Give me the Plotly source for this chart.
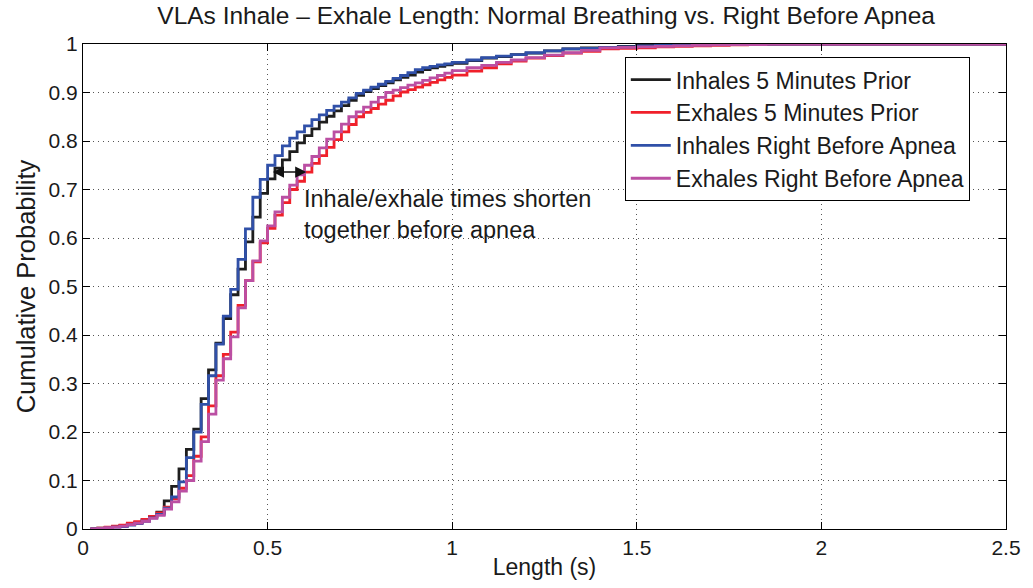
import plotly.graph_objects as go

# Breath length sample points (s)
LENGTH_S = [0.02, 0.04, 0.06, 0.08, 0.10, 0.12, 0.14, 0.16, 0.18, 0.20,
            0.22, 0.24, 0.26, 0.28, 0.30, 0.32, 0.34, 0.36, 0.38, 0.40,
            0.42, 0.44, 0.46, 0.48, 0.50, 0.52, 0.54, 0.56, 0.58, 0.60,
            0.62, 0.64, 0.66, 0.68, 0.70, 0.72, 0.74, 0.76, 0.78, 0.80,
            0.82, 0.84, 0.86, 0.88, 0.90, 0.92, 0.94, 0.96, 0.98, 1.00,
            1.04, 1.08, 1.12, 1.16, 1.20, 1.25, 1.30, 1.35, 1.40, 1.45,
            1.50, 1.55, 1.60, 1.65, 1.70, 1.75, 1.80, 1.85, 2.50]

INHALES_5MIN = [0.000, 0.002, 0.003, 0.005, 0.007, 0.010, 0.013, 0.019, 0.025, 0.035,
                0.058, 0.088, 0.124, 0.164, 0.206, 0.269, 0.328, 0.383, 0.434, 0.483,
                0.536, 0.592, 0.643, 0.692, 0.722, 0.744, 0.761, 0.778, 0.796, 0.811,
                0.825, 0.839, 0.851, 0.862, 0.873, 0.884, 0.894, 0.902, 0.908, 0.914,
                0.920, 0.926, 0.931, 0.936, 0.942, 0.947, 0.951, 0.954, 0.957, 0.960,
                0.966, 0.971, 0.974, 0.978, 0.981, 0.986, 0.990, 0.992, 0.993, 0.995,
                0.997, 0.998, 1.000, 1.000, 1.000, 1.000, 1.000, 1.000, 1.000]

EXHALES_5MIN = [0.000, 0.002, 0.004, 0.006, 0.008, 0.012, 0.015, 0.020, 0.026, 0.033,
                0.045, 0.062, 0.084, 0.110, 0.150, 0.190, 0.254, 0.316, 0.360, 0.406,
                0.461, 0.512, 0.551, 0.590, 0.620, 0.647, 0.673, 0.700, 0.717, 0.736,
                0.754, 0.770, 0.787, 0.803, 0.819, 0.834, 0.850, 0.859, 0.867, 0.876,
                0.884, 0.893, 0.901, 0.906, 0.911, 0.916, 0.921, 0.926, 0.931, 0.936,
                0.944, 0.951, 0.959, 0.965, 0.971, 0.976, 0.981, 0.985, 0.990, 0.991,
                0.992, 0.994, 0.995, 0.996, 0.997, 0.998, 0.999, 1.000, 1.000]

INHALES_APNEA = [0.000, 0.001, 0.002, 0.004, 0.005, 0.008, 0.011, 0.016, 0.023, 0.030,
                 0.043, 0.066, 0.097, 0.147, 0.200, 0.257, 0.316, 0.381, 0.439, 0.494,
                 0.556, 0.619, 0.684, 0.721, 0.750, 0.770, 0.790, 0.806, 0.819, 0.831,
                 0.844, 0.854, 0.863, 0.872, 0.880, 0.889, 0.898, 0.905, 0.911, 0.917,
                 0.923, 0.929, 0.935, 0.941, 0.947, 0.951, 0.954, 0.957, 0.959, 0.962,
                 0.967, 0.972, 0.975, 0.978, 0.982, 0.986, 0.990, 0.991, 0.993, 0.994,
                 0.996, 0.997, 0.998, 0.999, 1.000, 1.000, 1.000, 1.000, 1.000]

EXHALES_APNEA = [0.000, 0.001, 0.003, 0.004, 0.006, 0.009, 0.012, 0.016, 0.022, 0.028,
                 0.041, 0.056, 0.078, 0.100, 0.140, 0.180, 0.237, 0.307, 0.351, 0.396,
                 0.456, 0.512, 0.553, 0.594, 0.625, 0.654, 0.684, 0.709, 0.730, 0.750,
                 0.768, 0.786, 0.804, 0.819, 0.835, 0.850, 0.860, 0.870, 0.880, 0.890,
                 0.900, 0.905, 0.910, 0.915, 0.920, 0.925, 0.930, 0.935, 0.940, 0.945,
                 0.951, 0.956, 0.962, 0.967, 0.972, 0.977, 0.982, 0.987, 0.992, 0.993,
                 0.994, 0.995, 0.996, 0.997, 0.998, 0.999, 0.999, 1.000, 1.000]

SERIES_NAMES = ["Inhales 5 Minutes Prior", "Exhales 5 Minutes Prior",
                "Inhales Right Before Apnea", "Exhales Right Before Apnea"]
SERIES_VALUES = [INHALES_5MIN, EXHALES_5MIN, INHALES_APNEA, EXHALES_APNEA]
SERIES_COLORS = ["#1e1e1e", "#f0202a", "#3050a8", "#bb4fa3"]

X_TICKS = [0, 0.5, 1, 1.5, 2, 2.5]
Y_TICKS = [0, 0.1, 0.2, 0.3, 0.4, 0.5, 0.6, 0.7, 0.8, 0.9, 1]

FONT = "Liberation Sans, Arial, Helvetica, sans-serif"
TXT = "#1a1a1a"

fig = go.Figure()
for name, vals, col in zip(SERIES_NAMES, SERIES_VALUES, SERIES_COLORS):
    fig.add_trace(go.Scatter(x=LENGTH_S, y=vals, mode="lines", name=name,
                             line=dict(color=col, width=2.8, shape="hv")))

axis_common = dict(showline=True, linecolor="#000", linewidth=1, mirror="ticks",
                   ticks="inside", ticklen=7, tickcolor="#000", tickwidth=1,
                   showgrid=True, gridcolor="#555", gridwidth=1, griddash="1px,4px",
                   zeroline=False, tickfont=dict(size=21, color=TXT, family=FONT))

fig.update_xaxes(range=[0, 2.5], tickvals=X_TICKS, ticktext=[str(v) for v in X_TICKS],
                 title=dict(text="Length (s)", font=dict(size=23, color=TXT, family=FONT),
                            standoff=0),
                 **axis_common)
fig.update_yaxes(range=[0, 1], tickvals=Y_TICKS, ticktext=[f"{v:g}" for v in Y_TICKS],
                 title=dict(text="Cumulative Probability", font=dict(size=25.5, color=TXT, family=FONT),
                            standoff=5),
                 **axis_common)

fig.add_annotation(x=0.605, y=0.736, ax=0.51, ay=0.736, xref="x", yref="y",
                   axref="x", ayref="y", text="", showarrow=True,
                   arrowhead=2, startarrowhead=2, arrowside="end+start",
                   arrowsize=1.4, arrowwidth=1.6, arrowcolor="#111")
fig.add_annotation(x=0.592, y=0.712, xref="x", yref="y", xanchor="left", yanchor="top",
                   text="Inhale/exhale times shorten<br>together before apnea",
                   showarrow=False, align="left",
                   font=dict(size=23.5, color=TXT, family=FONT))

fig.update_layout(
    width=1033, height=588,
    margin=dict(l=83, r=23, t=44, b=59),
    paper_bgcolor="white", plot_bgcolor="white",
    title=dict(text="VLAs Inhale \u2013 Exhale Length: Normal Breathing vs. Right Before Apnea",
               x=0.5287, xanchor="center", y=0.974, yanchor="middle",
               font=dict(size=24.5, color=TXT, family=FONT)),
    legend=dict(x=0.587, y=0.973, xanchor="left", yanchor="top",
                bgcolor="white", bordercolor="#000", borderwidth=1,
                font=dict(size=23, color=TXT, family=FONT),
                tracegroupgap=0, itemwidth=40),
    showlegend=True,
)

fig.write_html("out.html")
